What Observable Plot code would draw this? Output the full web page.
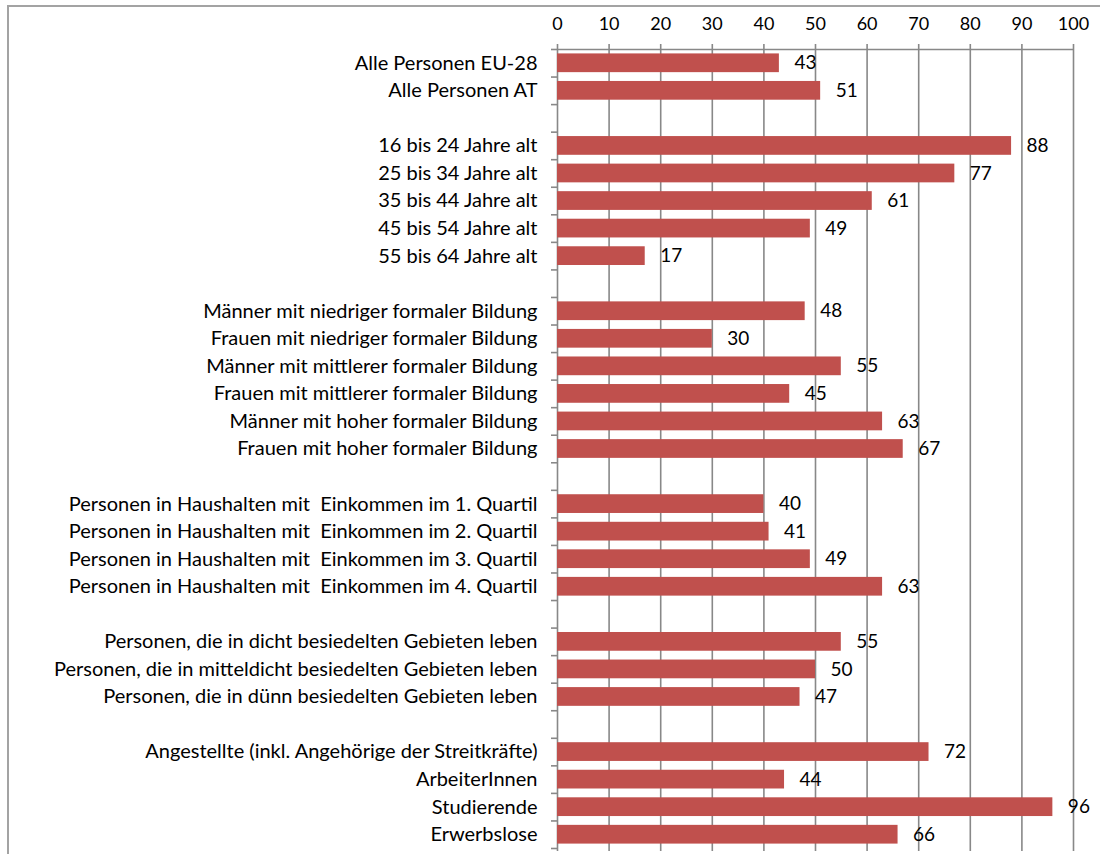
<!DOCTYPE html>
<html>
<head>
<meta charset="utf-8">
<script src="https://cdn.jsdelivr.net/npm/d3@7"></script>
<script src="https://cdn.jsdelivr.net/npm/@observablehq/plot@0.6"></script>
<style>
  body { margin: 0; background: #fff; }
  #frame { position: absolute; left: 7px; top: 5px; right: 0; bottom: 0;
           border-left: 2px solid #a3a3a3; border-top: 2px solid #a3a3a3; }
  #chart { position: absolute; left: 0; top: 0; }
</style>
</head>
<body>
<div id="frame"></div>
<div id="chart"></div>
<script>
// Groups of categories (a blank row separates each group)
const groupAlle = ["Alle Personen EU-28", "Alle Personen AT"];
const groupAlter = ["16 bis 24 Jahre alt", "25 bis 34 Jahre alt", "35 bis 44 Jahre alt",
                    "45 bis 54 Jahre alt", "55 bis 64 Jahre alt"];
const groupBildung = ["Männer mit niedriger formaler Bildung", "Frauen mit niedriger formaler Bildung",
                      "Männer mit mittlerer formaler Bildung", "Frauen mit mittlerer formaler Bildung",
                      "Männer mit hoher formaler Bildung", "Frauen mit hoher formaler Bildung"];
const groupEinkommen = ["Personen in Haushalten mit  Einkommen im 1. Quartil",
                        "Personen in Haushalten mit  Einkommen im 2. Quartil",
                        "Personen in Haushalten mit  Einkommen im 3. Quartil",
                        "Personen in Haushalten mit  Einkommen im 4. Quartil"];
const groupGebiet = ["Personen, die in dicht besiedelten Gebieten leben",
                     "Personen, die in mitteldicht besiedelten Gebieten leben",
                     "Personen, die in dünn besiedelten Gebieten leben"];
const groupErwerb = ["Angestellte (inkl. Angehörige der Streitkräfte)", "ArbeiterInnen",
                     "Studierende", "Erwerbslose"];

// Percent values per group
const valuesAlle = [43, 51];
const valuesAlter = [88, 77, 61, 49, 17];
const valuesBildung = [48, 30, 55, 45, 63, 67];
const valuesEinkommen = [40, 41, 49, 63];
const valuesGebiet = [55, 50, 47];
const valuesErwerb = [72, 44, 96, 66];

const xTicks = [0, 10, 20, 30, 40, 50, 60, 70, 80, 90, 100];

// Build the row order with spacer rows between groups
const groups = [groupAlle, groupAlter, groupBildung, groupEinkommen, groupGebiet, groupErwerb];
const groupValues = [valuesAlle, valuesAlter, valuesBildung, valuesEinkommen, valuesGebiet, valuesErwerb];
const domain = [];
const rows = [];
groups.forEach((g, gi) => {
  if (gi > 0) domain.push(`gap-${gi}`);
  g.forEach((name, i) => {
    domain.push(name);
    rows.push({name, value: groupValues[gi][i]});
  });
});

const width = 1100, height = 854;
const marginTop = 49, marginBottom = 6, marginLeft = 557, marginRight = 27;
const step = (height - marginTop - marginBottom) / domain.length;
const grid = "#888888";
const font = "Lato, sans-serif";

const chart = Plot.plot({
  width, height, marginTop, marginBottom, marginLeft, marginRight,
  style: {fontFamily: font, fontSize: "18px", color: "#000", background: "transparent"},
  x: {domain: [0, 100], axis: null, label: null},
  y: {domain, paddingInner: 0.32, paddingOuter: 0.16, round: false, axis: null, label: null},
  marks: [
    // vertical gridlines (0 doubles as the category axis)
    Plot.ruleX(xTicks, {stroke: grid, strokeWidth: 1.6, insetTop: -5, insetBottom: -3}),
    // top axis line
    Plot.ruleY([domain[0]], {x1: 0, x2: 100, dy: -step / 2, stroke: grid, strokeWidth: 1.6}),
    // category boundary ticks
    Plot.ruleY(domain, {x1: 0, x2: 0, dy: -step / 2, insetLeft: -6, stroke: grid, strokeWidth: 1.6}),
    Plot.ruleY([domain[domain.length - 1]], {x1: 0, x2: 0, dy: step / 2, insetLeft: -6, stroke: grid, strokeWidth: 1.6}),
    Plot.barX(rows, {x: "value", y: "name", fill: "#C0504D"}),
    Plot.text(rows, {x: "value", y: "name", text: d => String(d.value), textAnchor: "start",
                     dx: 15, fontSize: 19, fill: "#000"}),
    Plot.axisX(xTicks, {anchor: "top", tickSize: 0, tickPadding: 20, fontSize: 18, label: null,
                        tickFormat: d => String(d)}),
    Plot.axisY({anchor: "left", tickSize: 0, tickPadding: 20, fontSize: 20, label: null,
                tickFormat: d => d.startsWith("gap-") ? "" : d})
  ]
});
document.getElementById("chart").append(chart);
</script>
</body>
</html>
